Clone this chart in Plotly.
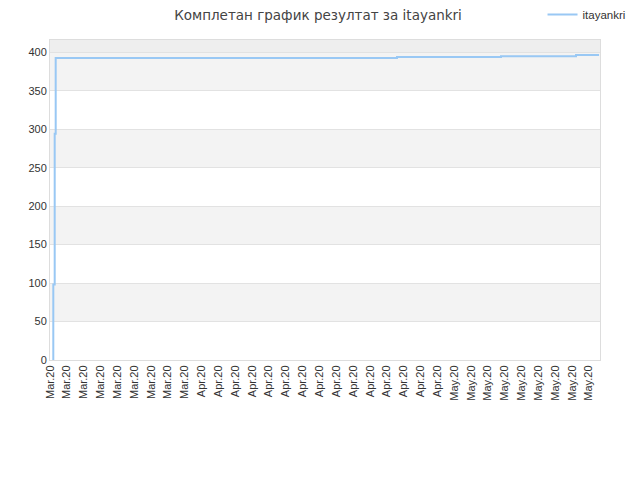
import plotly.graph_objects as go

# step times and score values
times = [
    "2020-03-14 09:24",
    "2020-03-14 09:25",
    "2020-03-14 13:24",
    "2020-03-14 16:15",
    "2020-04-10 13:00",
    "2020-04-24 05:00",
    "2020-04-30 18:00",
    "2020-05-06 13:30",
    "2020-05-12 18:00",
    "2020-05-15 11:20",
    "2020-05-18 05:00",
]
scores = [0, 98, 294, 392.5, 392.5, 394, 394, 395, 395, 396.5, 396.5]

tick_dates = ["2020-03-14", "2020-03-16", "2020-03-18", "2020-03-20", "2020-03-22",
              "2020-03-24", "2020-03-26", "2020-03-28", "2020-03-30",
              "2020-04-01", "2020-04-03", "2020-04-05", "2020-04-07", "2020-04-09",
              "2020-04-11", "2020-04-13", "2020-04-15", "2020-04-17", "2020-04-19",
              "2020-04-21", "2020-04-23", "2020-04-25", "2020-04-27", "2020-04-29",
              "2020-05-01", "2020-05-03", "2020-05-05", "2020-05-07", "2020-05-09",
              "2020-05-11", "2020-05-13", "2020-05-15", "2020-05-17"]
y_ticks = [0, 50, 100, 150, 200, 250, 300, 350, 400]

fig = go.Figure()
fig.add_trace(
    go.Scatter(
        x=times,
        y=scores,
        mode="lines",
        name="itayankri",
        line=dict(color="#99c8f4", width=2, shape="hv"),
    )
)

# alternating bands behind the grid
shapes = []
for lo in (50, 150, 250, 350):
    shapes.append(dict(type="rect", xref="paper", yref="y", x0=0, x1=1, y0=lo, y1=lo + 50,
                       fillcolor="#f3f3f3", line=dict(width=0), layer="below"))
shapes.append(dict(type="rect", xref="paper", yref="y", x0=0, x1=1, y0=400, y1=416,
                   fillcolor="#eeeeee", line=dict(width=0), layer="below"))

# page body has an 8px margin, so the figure is 8px smaller and shifted
fig.update_layout(
    width=632,
    height=472,
    paper_bgcolor="white",
    plot_bgcolor="white",
    margin=dict(l=42, r=40, t=32, b=120, autoexpand=False),
    font=dict(family="Liberation Sans, Arial, sans-serif", size=11, color="#333333"),
    title=dict(
        text="Комплетан график резултат за itayankri",
        x=0.4905,
        xanchor="center",
        y=1 - 7 / 472,
        yanchor="middle",
        font=dict(family="DejaVu Sans, sans-serif", size=13.5, color="#444444"),
    ),
    showlegend=True,
    legend=dict(
        xref="container",
        yref="container",
        x=0.985,
        xanchor="right",
        y=1 - 6.5 / 472,
        yanchor="middle",
        font=dict(size=11.5, color="#333333"),
        bgcolor="rgba(0,0,0,0)",
        itemwidth=30,
    ),
    shapes=shapes,
    xaxis=dict(
        type="date",
        range=["2020-03-14 00:00", "2020-05-18 07:40"],
        tickvals=tick_dates,
        tickformat="%b.%y",
        tickangle=-90,
        showgrid=False,
        showline=True,
        linecolor="#dddddd",
        mirror=True,
        ticks="",
        zeroline=False,
    ),
    yaxis=dict(
        range=[0, 416],
        tickvals=y_ticks,
        showgrid=True,
        gridcolor="#e2e2e2",
        showline=True,
        linecolor="#dddddd",
        mirror=True,
        ticks="",
        zeroline=False,
    ),
)

fig.write_html("out.html")
